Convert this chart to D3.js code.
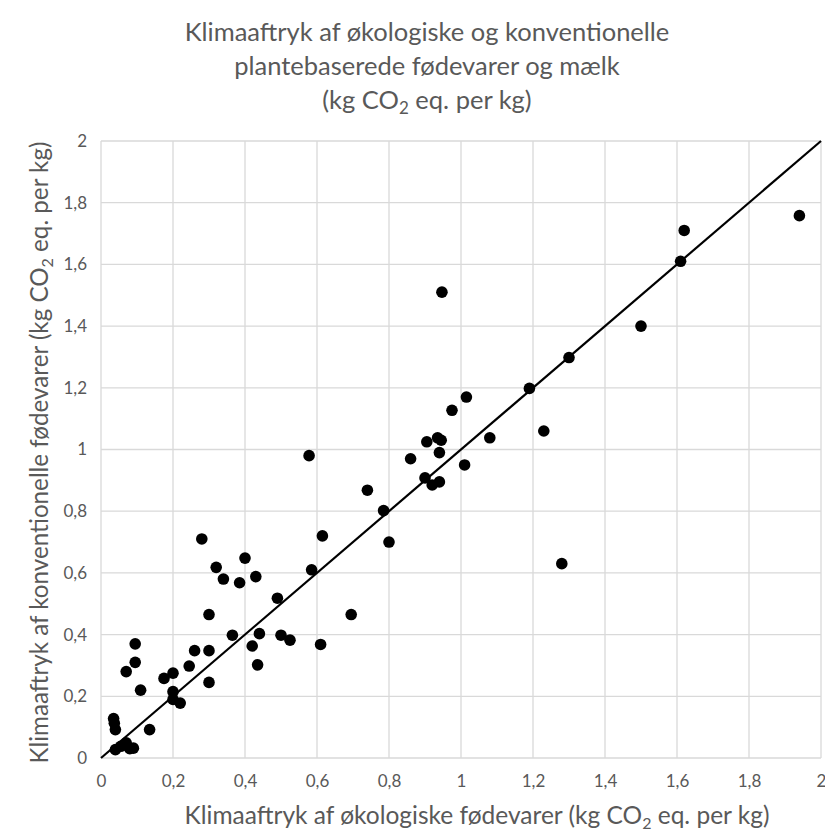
<!DOCTYPE html>
<html>
<head>
<meta charset="utf-8">
<script src="https://cdn.jsdelivr.net/npm/d3@7"></script>
<style>
  html, body { margin: 0; padding: 0; background: #fff; }
  svg text { font-family: Lato, "Open Sans", sans-serif; fill: #595959; }
</style>
</head>
<body>
<div id="chart"></div>
<script>
// Organic vs conventional climate footprint, kg CO2 eq. per kg
const organic = [
  0.04, 0.055, 0.07, 0.08, 0.09, 0.035, 0.037, 0.04, 0.135,
  0.095, 0.095, 0.07, 0.11, 0.175, 0.20, 0.20, 0.20, 0.22,
  0.245, 0.26, 0.30, 0.30, 0.30, 0.28, 0.32, 0.34, 0.385, 0.40, 0.43,
  0.365, 0.42, 0.435, 0.44, 0.49, 0.50, 0.525, 0.61, 0.585, 0.615, 0.578,
  0.695, 0.74, 0.785, 0.80, 0.86, 0.90, 0.905, 0.92, 0.935, 0.94, 0.94, 0.945,
  0.947, 0.975, 1.01, 1.015, 1.08, 1.19, 1.23, 1.28, 1.30, 1.50, 1.61, 1.62, 1.94
];
const conventional = [
  0.027, 0.038, 0.049, 0.03, 0.032, 0.128, 0.113, 0.092, 0.092,
  0.37, 0.31, 0.28, 0.22, 0.258, 0.275, 0.215, 0.19, 0.178,
  0.298, 0.348, 0.348, 0.465, 0.245, 0.71, 0.618, 0.58, 0.568, 0.648, 0.588,
  0.398, 0.363, 0.302, 0.403, 0.518, 0.398, 0.382, 0.368, 0.61, 0.72, 0.98,
  0.465, 0.868, 0.802, 0.70, 0.97, 0.908, 1.025, 0.885, 1.038, 0.99, 0.895, 1.03,
  1.51, 1.127, 0.95, 1.17, 1.038, 1.198, 1.06, 0.63, 1.298, 1.40, 1.61, 1.71, 1.758
];
const xTicks = [0, 0.2, 0.4, 0.6, 0.8, 1, 1.2, 1.4, 1.6, 1.8, 2];
const yTicks = [0, 0.2, 0.4, 0.6, 0.8, 1, 1.2, 1.4, 1.6, 1.8, 2];
const titleLines = [
  "Klimaaftryk af økologiske og konventionelle",
  "plantebaserede fødevarer og mælk"
];

const W = 825, H = 831;
const M = { left: 101, right: 4, top: 141, bottom: 73 };

const svg = d3.select("#chart").append("svg")
  .attr("width", W).attr("height", H);

const x = d3.scaleLinear().domain([0, 2]).range([M.left, W - M.right]);
const y = d3.scaleLinear().domain([0, 2]).range([H - M.bottom, M.top]);

const fmt = d => String(d).replace(".", ",");

// grid
const grid = svg.append("g").attr("stroke", "#d9d9d9").attr("stroke-width", 1.3);
grid.selectAll("line.v").data(xTicks).join("line").attr("class", "v")
  .attr("x1", d => x(d)).attr("x2", d => x(d))
  .attr("y1", y(0)).attr("y2", y(2));
grid.selectAll("line.h").data(yTicks).join("line").attr("class", "h")
  .attr("x1", x(0)).attr("x2", x(2))
  .attr("y1", d => y(d)).attr("y2", d => y(d));

// axes (labels only, Excel style)
const xAxis = svg.append("g").attr("transform", `translate(0,${y(0) + 12})`)
  .call(d3.axisBottom(x).tickValues(xTicks).tickFormat(fmt).tickSize(0));
xAxis.select(".domain").remove();
xAxis.selectAll("text").attr("font-size", 17).attr("dy", "0.85em");

const yAxis = svg.append("g").attr("transform", `translate(${x(0) - 11},0)`)
  .call(d3.axisLeft(y).tickValues(yTicks).tickFormat(fmt).tickSize(0));
yAxis.select(".domain").remove();
yAxis.selectAll("text").attr("font-size", 17);

// y = x reference line
svg.append("line")
  .attr("x1", x(0)).attr("y1", y(0))
  .attr("x2", x(2)).attr("y2", y(2))
  .attr("stroke", "#000").attr("stroke-width", 2.2);

// points
svg.append("g").selectAll("circle")
  .data(d3.zip(organic, conventional)).join("circle")
  .attr("cx", d => x(d[0])).attr("cy", d => y(d[1]))
  .attr("r", 5.8).attr("fill", "#000");

// title
const title = svg.append("text").attr("text-anchor", "middle").attr("font-size", 25.5);
titleLines.forEach((t, i) => {
  title.append("tspan").attr("x", 427).attr("y", 41 + i * 34).text(t);
});
const t3 = svg.append("text").attr("text-anchor", "middle").attr("font-size", 25.5)
  .attr("x", 427).attr("y", 109);
t3.append("tspan").text("(kg CO");
t3.append("tspan").attr("font-size", 17).attr("dy", 5).text("2");
t3.append("tspan").attr("dy", -5).text(" eq. per kg)");

// x axis title
const xt = svg.append("text").attr("text-anchor", "middle").attr("font-size", 24.5)
  .attr("x", 477).attr("y", 824);
xt.append("tspan").text("Klimaaftryk af økologiske fødevarer (kg CO");
xt.append("tspan").attr("font-size", 16).attr("dy", 5).text("2");
xt.append("tspan").attr("dy", -5).text(" eq. per kg)");

// y axis title
const yt = svg.append("text").attr("text-anchor", "middle").attr("font-size", 24.2)
  .attr("transform", `translate(48,${(y(0) + y(2)) / 2 + 3}) rotate(-90)`);
yt.append("tspan").text("Klimaaftryk af konventionelle fødevarer (kg CO");
yt.append("tspan").attr("font-size", 16).attr("dy", 5).text("2");
yt.append("tspan").attr("dy", -5).text(" eq. per kg)");
</script>
</body>
</html>
